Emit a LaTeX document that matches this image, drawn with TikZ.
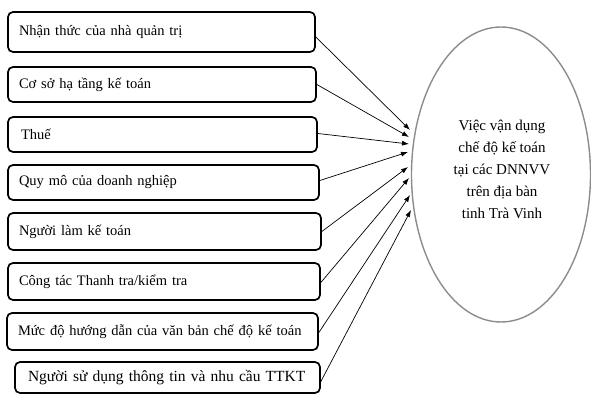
\documentclass[tikz,border=0pt]{standalone}
\usepackage{fontspec}
\setmainfont{Liberation Serif}
\usetikzlibrary{arrows.meta}
\begin{document}
\begin{tikzpicture}[x=1pt,y=-1pt,
  factor/.style={draw=black, line width=1.7pt, rounded corners=5pt, inner xsep=11pt, inner ysep=0pt, align=left, font=\fontsize{14.5}{16}\selectfont},
  link/.style={-{Latex[length=7pt,width=5pt]}, line width=0.7pt, black}]
\useasboundingbox (0,0) rectangle (591,395);
\node[factor, text width=285pt, minimum height=40pt] (b1) at (161.5,32) {Nhận thức của nhà quản trị};
\node[factor, text width=286pt, minimum height=35pt] (b2) at (162,84.5) {Cơ sở hạ tầng kế toán};
\node[factor, text width=287pt, minimum height=35pt] (b3) at (162.5,134.5) {\hspace*{2pt}Thuế};
\node[factor, text width=289pt, minimum height=35pt] (b4) at (163.5,182.5) {Quy mô của doanh nghiệp};
\node[factor, text width=291pt, minimum height=37pt] (b5) at (164.5,231.5) {Người làm kế toán};
\node[factor, text width=290pt, minimum height=37pt] (b6) at (164,281.5) {Công tác Thanh tra/kiểm tra};
\node[factor, text width=289pt, minimum height=37pt] (b7) at (162.5,331.5) {Mức độ hướng dẫn của văn bản chế độ kế toán};
\node[factor, text width=283pt, minimum height=31pt, font=\fontsize{15.5}{17}\selectfont] (b8) at (167.5,377.5) {\hspace*{2pt}Người sử dụng thông tin và nhu cầu TTKT};
\draw[draw=black!45, line width=1.4pt] (501,174.5) ellipse [x radius=89.5pt, y radius=147.5pt];
\node[align=center, font=\fontsize{15}{22}\selectfont] (goal) at (502,169) {Việc vận dụng\\chế độ kế toán\\tại các DNNVV\\trên địa bàn\\tinh Trà Vinh};
\coordinate (t1) at (410,130);
\coordinate (t2) at (409,137);
\coordinate (t3) at (409,144);
\coordinate (t4) at (408,152);
\coordinate (t5) at (408,167);
\coordinate (t6) at (409,178);
\coordinate (t7) at (410,195);
\coordinate (t8) at (411,210);
\draw[link] ([yshift=-5pt]b1.east) -- (t1);
\draw[link] (b2.east) -- (t2);
\draw[link] ([yshift=1pt]b3.east) -- (t3);
\draw[link] ([yshift=2pt]b4.east) -- (t4);
\draw[link] (b5.east) -- (t5);
\draw[link] ([yshift=-1pt]b6.east) -- (t6);
\draw[link] ([yshift=-1pt]b7.east) -- (t7);
\draw[link] ([yshift=-4pt]b8.east) -- (t8);
\end{tikzpicture}
\end{document}
